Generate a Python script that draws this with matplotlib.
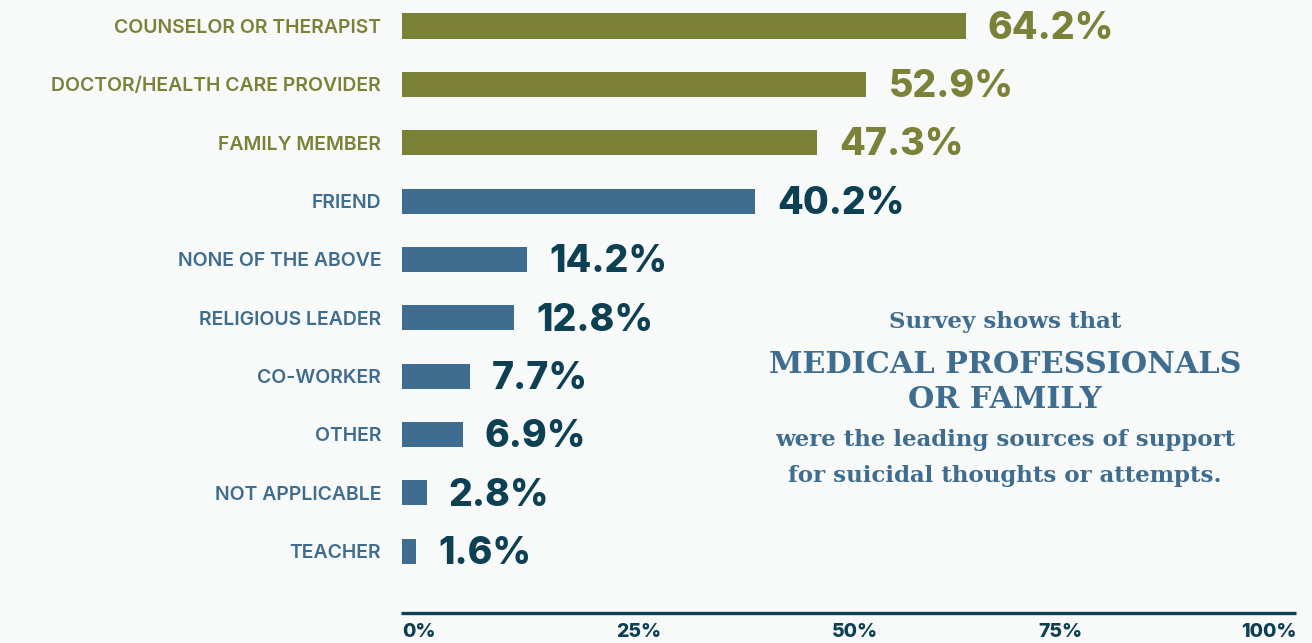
import matplotlib
matplotlib.use("Agg")
import matplotlib.pyplot as plt
import matplotlib.transforms as mtransforms

categories = ["COUNSELOR OR THERAPIST", "DOCTOR/HEALTH CARE PROVIDER", "FAMILY MEMBER",
              "FRIEND", "NONE OF THE ABOVE", "RELIGIOUS LEADER", "CO-WORKER", "OTHER",
              "NOT APPLICABLE", "TEACHER"]
values = [64.2, 52.9, 47.3, 40.2, 14.2, 12.8, 7.7, 6.9, 2.8, 1.6]
highlight = [True, True, True, False, False, False, False, False, False, False]
tick_values = [0, 25, 50, 75, 100]
tick_labels = ["0%", "25%", "50%", "75%", "100%"]

BG = "#f8f9f9"
OLIVE = "#7b8238"
BLUE = "#3e6d8f"
DARK = "#0d4053"

W, H = 1312, 643
fig = plt.figure(figsize=(W / 100, H / 100), dpi=100, facecolor=BG)
ax = fig.add_axes([402 / W, (H - 613) / H, (1280 - 402) / W, 613 / H])
ax.set_facecolor(BG)

ypos = list(range(len(categories)))
colors = [OLIVE if h else BLUE for h in highlight]
ax.barh(ypos, values, height=0.43, color=colors)
ax.set_xlim(0, 100)
ax.set_ylim(10.06, -0.446)

label_font = ["Inter", "DejaVu Sans"]
for y, v, h in zip(ypos, values, highlight):
    ax.annotate(f"{v}%", xy=(v, y), xytext=(16, -2), textcoords="offset points",
                ha="left", va="center", fontsize=27, fontweight="heavy",
                color=OLIVE if h else DARK, family=label_font)

ax.set_yticks(ypos)
ax.set_yticklabels(categories, fontsize=14, fontweight="semibold", family=label_font)
for lbl, h in zip(ax.get_yticklabels(), highlight):
    lbl.set_color(OLIVE if h else BLUE)
ax.tick_params(axis="y", length=0, pad=15)

ax.set_xticks(tick_values)
ax.set_xticklabels(tick_labels, fontsize=14, fontweight="heavy", color=DARK, family=label_font)
ax.tick_params(axis="x", length=0, pad=7)
offsets_px = [0, 17, 14, 0, 17]
aligns = ["left", "center", "center", "center", "right"]
for lbl, off, al in zip(ax.get_xticklabels(), offsets_px, aligns):
    lbl.set_ha(al)
    lbl.set_transform(lbl.get_transform() + mtransforms.ScaledTranslation(off / 100, 0, fig.dpi_scale_trans))

for s in ["top", "right", "left", "bottom"]:
    ax.spines[s].set_visible(False)
ax.plot([-0.15, 101.8], [10.06, 10.06], color=DARK, lw=2.4, clip_on=False, solid_capstyle="butt")

serif = ["DejaVu Serif"]
cx = 1005 / W
def fy(p):
    return 1 - p / H
fig.text(cx, fy(322), "Survey shows that", ha="center", va="center", fontsize=16.5,
         fontweight="bold", color=BLUE, family=serif)
fig.text(cx, fy(365), "MEDICAL PROFESSIONALS", ha="center", va="center", fontsize=21.8,
         fontweight="bold", color=BLUE, family=serif)
fig.text(cx, fy(400), "OR FAMILY", ha="center", va="center", fontsize=21.8,
         fontweight="bold", color=BLUE, family=serif)
fig.text(cx, fy(440), "were the leading sources of support", ha="center", va="center", fontsize=16.5,
         fontweight="bold", color=BLUE, family=serif)
fig.text(cx, fy(476), "for suicidal thoughts or attempts.", ha="center", va="center", fontsize=16.5,
         fontweight="bold", color=BLUE, family=serif)

fig.savefig("out.png", dpi=100, facecolor=BG)
